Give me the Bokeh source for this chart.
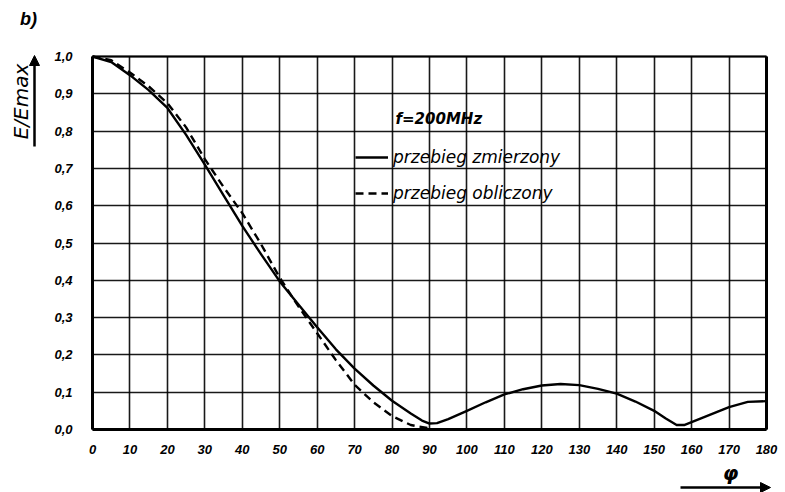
import math
from bokeh.plotting import figure
from bokeh.models import (Range1d, FixedTicker, CustomJSTickFormatter, Legend, LegendItem,
                          Label, Arrow, NormalHead, ColumnDataSource, LinearAxis, Grid)
from bokeh.embed import file_html
from bokeh.resources import INLINE

# ---- data ----
phi_measured = [0, 5, 10, 15, 20, 25, 30, 35, 40, 45, 50, 55, 60, 65, 70, 75, 80, 85, 88, 90,
                92, 95, 100, 105, 110, 115, 120, 125, 130, 135, 140, 145, 150, 153, 156, 158,
                160, 165, 170, 175, 180]
e_measured = [1.0, 0.985, 0.950, 0.910, 0.862, 0.790, 0.710, 0.628, 0.546, 0.470, 0.397, 0.335,
              0.274, 0.215, 0.163, 0.118, 0.077, 0.043, 0.024, 0.016,
              0.017, 0.028, 0.050, 0.073, 0.094, 0.108, 0.118, 0.122, 0.119, 0.109, 0.096,
              0.075, 0.050, 0.030, 0.012, 0.012, 0.020, 0.040, 0.060, 0.074, 0.076]

phi_calc = [0, 5, 10, 15, 20, 25, 30, 35, 40, 45, 50, 55, 60, 65, 70, 75, 80, 85, 90]
e_calc = [1.0, 0.990, 0.957, 0.920, 0.875, 0.810, 0.725, 0.650, 0.580, 0.497, 0.407, 0.330,
          0.258, 0.186, 0.120, 0.073, 0.036, 0.012, 0.003]

x_ticks = list(range(0, 181, 10))
y_ticks = [0.0, 0.1, 0.2, 0.3, 0.4, 0.5, 0.6, 0.7, 0.8, 0.9, 1.0]

legend_title = "f=200MHz"
label_measured = "przebieg zmierzony"
label_calc = "przebieg obliczony"
y_title = "E/Emax"
x_title = "φ"
panel_tag = "b)"

FONT = "Liberation Sans"
LFONT = "DejaVu Sans"

# ---- layout (pixels) ----
W, H = 785, 492
FL, FR, FT, FB = 92, 766, 56, 429        # chart box edges inside the canvas
x_lo, x_hi = x_ticks[0], x_ticks[-1]
y_lo, y_hi = y_ticks[0], y_ticks[-1]
px_x = (FR - FL) / (x_hi - x_lo)
px_y = (FB - FT) / (y_hi - y_lo)

p = figure(width=W, height=H, output_backend="svg", toolbar_location=None,
           x_range=Range1d(x_lo - FL / px_x, x_hi + (W - FR) / px_x),
           y_range=Range1d(y_lo - (H - FB) / px_y, y_hi + FT / px_y),
           min_border_left=0, min_border_right=0, min_border_top=0, min_border_bottom=0)
p.background_fill_color = "white"
p.border_fill_color = "white"
p.outline_line_color = None

xa, ya = p.xaxis[0], p.yaxis[0]
xa.fixed_location = y_lo
ya.fixed_location = x_lo
xa.bounds = (x_lo, x_hi)
ya.bounds = (y_lo, y_hi)
for ax in (xa, ya):
    ax.axis_line_color = "black"
    ax.axis_line_width = 3
    ax.major_tick_line_color = None
    ax.minor_tick_line_color = None
    ax.major_label_text_font = FONT
    ax.major_label_text_font_style = "bold italic"
    ax.major_label_text_font_size = "13px"
    ax.major_label_text_color = "black"
xa.ticker = FixedTicker(ticks=x_ticks)
ya.ticker = FixedTicker(ticks=y_ticks)
ya.formatter = CustomJSTickFormatter(code="return tick.toFixed(1).replace('.', ',');")
xa.major_label_standoff = 9
ya.major_label_standoff = 14

# right and top borders of the chart box
right_ax = LinearAxis(fixed_location=x_hi, bounds=(y_lo, y_hi), ticker=FixedTicker(ticks=[]),
                      axis_line_color="black", axis_line_width=3,
                      major_tick_line_color=None, minor_tick_line_color=None,
                      major_label_text_color=None)
top_ax = LinearAxis(fixed_location=y_hi, bounds=(x_lo, x_hi), ticker=FixedTicker(ticks=[]),
                    axis_line_color="black", axis_line_width=2,
                    major_tick_line_color=None, minor_tick_line_color=None,
                    major_label_text_color=None)
p.add_layout(right_ax, "right")
p.add_layout(top_ax, "above")

GRID_W = 1.6
if "cross_bounds" in Grid.properties():
    p.xgrid[0].ticker = FixedTicker(ticks=x_ticks)
    p.ygrid[0].ticker = FixedTicker(ticks=y_ticks)
    p.xgrid[0].cross_bounds = (y_lo, y_hi)
    p.ygrid[0].cross_bounds = (x_lo, x_hi)
    for g in (p.xgrid[0], p.ygrid[0]):
        g.grid_line_color = "black"
        g.grid_line_width = GRID_W
        g.grid_line_alpha = 0.9
else:
    p.xgrid.visible = False
    p.ygrid.visible = False
    p.segment(x0=x_ticks, y0=[y_lo] * len(x_ticks), x1=x_ticks, y1=[y_hi] * len(x_ticks),
              line_color="black", line_width=GRID_W, line_alpha=0.9)
    p.segment(x0=[x_lo] * len(y_ticks), y0=y_ticks, x1=[x_hi] * len(y_ticks), y1=y_ticks,
              line_color="black", line_width=GRID_W, line_alpha=0.9)

src_m = ColumnDataSource(data=dict(x=phi_measured, y=e_measured))
src_c = ColumnDataSource(data=dict(x=phi_calc, y=e_calc))
r_m = p.line("x", "y", source=src_m, line_color="black", line_width=2.4, line_join="round")
r_c = p.line("x", "y", source=src_c, line_color="black", line_width=2.4, line_dash="8 5")

legend = Legend(items=[LegendItem(label=label_measured, renderers=[r_m]),
                       LegendItem(label=label_calc, renderers=[r_c])],
                location=(355, H - 203), orientation="vertical")
legend.background_fill_alpha = 0
legend.border_line_alpha = 0
legend.padding = 0
legend.margin = 0
legend.spacing = 16
legend.glyph_width = 33
legend.glyph_height = 20
legend.label_height = 20
legend.label_standoff = 5
legend.label_text_font = LFONT
legend.label_text_font_style = "italic"
legend.label_text_font_size = "17px"
legend.label_text_color = "black"
p.add_layout(legend)

p.add_layout(Label(x=395, y=H - 118, x_units="screen", y_units="screen", text=legend_title,
                   text_font=LFONT, text_font_style="bold italic", text_font_size="15px",
                   text_color="black", text_baseline="middle", text_align="left"))

# y title, rotated, with arrow
p.add_layout(Label(x=20, y=H - 101, x_units="screen", y_units="screen", text=y_title,
                   angle=math.pi / 2, text_font=LFONT, text_font_style="italic",
                   text_font_size="20px", text_color="black",
                   text_align="center", text_baseline="middle"))
p.add_layout(Arrow(x_start=34, y_start=H - 146, x_end=34, y_end=H - 55,
                   start_units="screen", end_units="screen", line_width=2.5,
                   end=NormalHead(size=10, fill_color="black", line_color="black")))

# x title with arrow
p.add_layout(Label(x=730, y=H - 472, x_units="screen", y_units="screen", text=x_title,
                   text_font=LFONT, text_font_style="bold italic", text_font_size="20px",
                   text_color="black", text_align="center", text_baseline="middle"))
p.add_layout(Arrow(x_start=680, y_start=H - 487, x_end=770, y_end=H - 487,
                   start_units="screen", end_units="screen", line_width=2.5,
                   end=NormalHead(size=10, fill_color="black", line_color="black")))

# panel tag
p.add_layout(Label(x=28, y=H - 18, x_units="screen", y_units="screen", text=panel_tag,
                   text_font=FONT, text_font_style="bold italic", text_font_size="18px",
                   text_color="black", text_align="center", text_baseline="middle"))

open("out.html", "w").write(file_html(p, INLINE))
